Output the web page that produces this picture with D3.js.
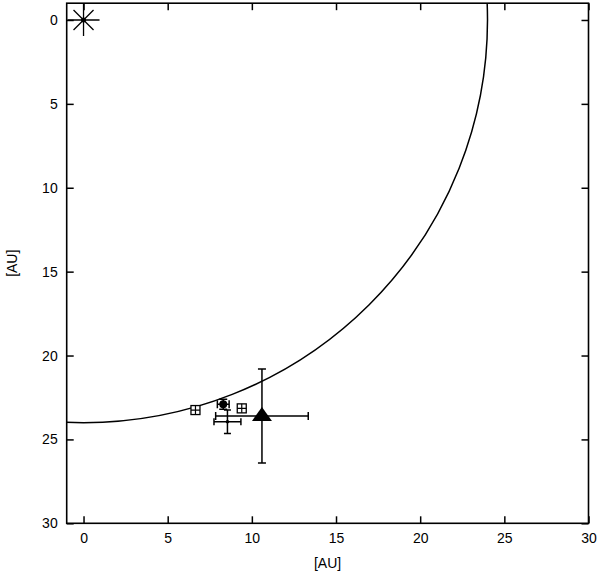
<!DOCTYPE html>
<html>
<head>
<meta charset="utf-8">
<script src="https://cdn.jsdelivr.net/npm/d3@7"></script>
<style>
  body { margin: 0; background: #fff; }
  svg { display: block; }
  text { font-family: "Liberation Sans", Arial, sans-serif; fill: #000; }
</style>
</head>
<body>
<svg id="chart" width="600" height="575"></svg>
<script>
// ---- data ----
const xTicks = [0, 5, 10, 15, 20, 25, 30];
const yTicks = [0, 5, 10, 15, 20, 25, 30];
const orbitRadius = 24;               // circle of radius 24 AU around the star
const star = [{x: 0, y: 0}];
const openSquares = [{x: 6.65, y: 23.25}, {x: 9.4, y: 23.15}];
const filledCircle = [{x: 8.3, y: 22.9, xerr: 0.35, yerr: 0.3}];
const crossPoint = [{x: 8.55, y: 23.95, xerr: 0.8, yerr: 0.7}];
const trianglePoint = [{x: 10.6, y: 23.6, xerr: 2.75, yerr: 2.8}];

// ---- layout ----
const svg = d3.select("#chart");
const x = d3.scaleLinear().domain([-1, 30]).range([66.7, 588.5]);
const y = d3.scaleLinear().domain([-1, 30]).range([3.2, 523.3]);
const L = x.range()[0], R = x.range()[1], T = y.range()[0], B = y.range()[1];

svg.append("defs").append("clipPath").attr("id", "clip")
  .append("rect").attr("x", L).attr("y", T).attr("width", R - L).attr("height", B - T);

// orbit circle
svg.append("ellipse")
  .attr("clip-path", "url(#clip)")
  .attr("cx", x(0)).attr("cy", y(0))
  .attr("rx", x(orbitRadius) - x(0)).attr("ry", y(orbitRadius) - y(0))
  .attr("fill", "none").attr("stroke", "#000").attr("stroke-width", 1.5);

// axes
const fontSize = 14;
const gB = svg.append("g").attr("transform", `translate(0,${B})`)
  .call(d3.axisBottom(x).tickValues(xTicks).tickSizeInner(-7).tickSizeOuter(0).tickPadding(10));
const gL = svg.append("g").attr("transform", `translate(${L},0)`)
  .call(d3.axisLeft(y).tickValues(yTicks).tickSizeInner(-7).tickSizeOuter(0).tickPadding(9));
const gT = svg.append("g").attr("transform", `translate(0,${T})`)
  .call(d3.axisTop(x).tickValues(xTicks).tickSizeInner(-7).tickSizeOuter(0).tickFormat(""));
const gR = svg.append("g").attr("transform", `translate(${R},0)`)
  .call(d3.axisRight(y).tickValues(yTicks).tickSizeInner(-7).tickSizeOuter(0).tickFormat(""));
[gB, gL, gT, gR].forEach(g => {
  g.select(".domain").remove();
  g.selectAll(".tick line").attr("stroke", "#000").attr("stroke-width", 1.5);
  g.selectAll(".tick text").attr("font-size", fontSize).attr("font-family", "Liberation Sans, Arial, sans-serif").attr("fill", "#000");
});

svg.append("rect").attr("x", L).attr("y", T).attr("width", R - L).attr("height", B - T)
  .attr("fill", "none").attr("stroke", "#000").attr("stroke-width", 1.6);

// axis labels
svg.append("text").attr("x", (L + R) / 2).attr("y", 568).attr("text-anchor", "middle")
  .attr("font-size", fontSize).text("[AU]");
svg.append("text").attr("transform", `translate(17,${(T + B) / 2}) rotate(-90)`)
  .attr("text-anchor", "middle").attr("font-size", fontSize).text("[AU]");

const marks = svg.append("g").attr("clip-path", "url(#clip)");

// error bars helper
function errorBars(data, cap) {
  const g = marks.append("g").attr("stroke", "#000").attr("stroke-width", 1.5).attr("fill", "none");
  data.forEach(d => {
    const cx = x(d.x), cy = y(d.y);
    const x0 = x(d.x - d.xerr), x1 = x(d.x + d.xerr);
    const y0 = y(d.y - d.yerr), y1 = y(d.y + d.yerr);
    g.append("path").attr("d",
      `M${x0},${cy}H${x1}M${cx},${y0}V${y1}` +
      `M${x0},${cy - cap}V${cy + cap}M${x1},${cy - cap}V${cy + cap}` +
      `M${cx - cap},${y0}H${cx + cap}M${cx - cap},${y1}H${cx + cap}`);
  });
}

// star (asterisk) at origin
star.forEach(d => {
  const cx = x(d.x), cy = y(d.y);
  let p = "";
  [[16, 0], [0, 16], [10, 10], [10, -10]].forEach(([dx, dy]) => {
    p += `M${cx - dx},${cy - dy}L${cx + dx},${cy + dy}`;
  });
  marks.append("path").attr("d", p).attr("stroke", "#000").attr("stroke-width", 1.3).attr("fill", "none");
  marks.append("circle").attr("cx", cx).attr("cy", cy).attr("r", 2.5).attr("fill", "#000");
});

// open squares with plus
openSquares.forEach(d => {
  const cx = x(d.x), cy = y(d.y), h = 4.5;
  marks.append("rect").attr("x", cx - h).attr("y", cy - h).attr("width", 2 * h).attr("height", 2 * h)
    .attr("fill", "#fff").attr("stroke", "#000").attr("stroke-width", 1.3);
  marks.append("path").attr("d", `M${cx - h},${cy}H${cx + h}M${cx},${cy - h}V${cy + h}`)
    .attr("stroke", "#000").attr("stroke-width", 1.2);
});

// filled circle with small error bars
errorBars(filledCircle, 4);
filledCircle.forEach(d => {
  marks.append("circle").attr("cx", x(d.x)).attr("cy", y(d.y)).attr("r", 4).attr("fill", "#000");
});

// cross with error bars
errorBars(crossPoint, 3.5);
crossPoint.forEach(d => {
  marks.append("circle").attr("cx", x(d.x)).attr("cy", y(d.y)).attr("r", 1.8).attr("fill", "#000");
});

// triangle with error bars
errorBars(trianglePoint, 4);
trianglePoint.forEach(d => {
  const cx = x(d.x), cy = y(d.y);
  marks.append("path").attr("d", `M${cx},${cy - 9}L${cx + 10},${cy + 5}L${cx - 10},${cy + 5}Z`)
    .attr("fill", "#000");
});
</script>
</body>
</html>
